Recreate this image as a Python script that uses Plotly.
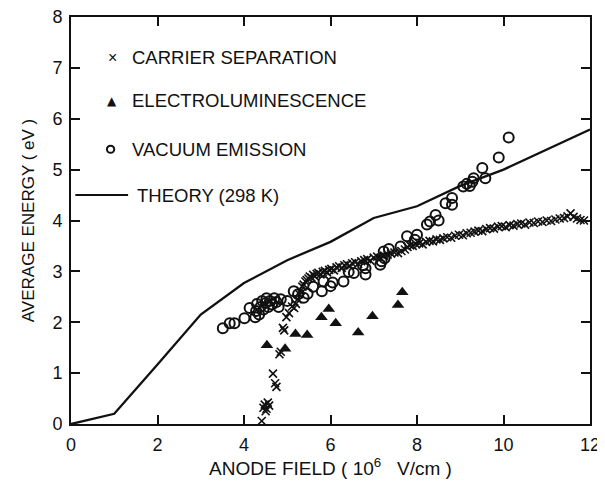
import plotly.graph_objects as go

# theory curve (298 K)
theory_x = [0, 1, 2, 3, 4, 5, 6, 7, 8, 9, 10, 11, 12]
theory_y = [0, 0.2, 1.17, 2.15, 2.77, 3.22, 3.58, 4.05, 4.28, 4.68, 5.0, 5.4, 5.79]

# carrier separation
carrier_x = [4.41, 4.45, 4.48, 4.50, 4.52, 4.55, 4.58, 4.67, 4.72, 4.75, 4.82, 4.85, 4.90, 4.93,
             4.98, 5.04, 5.11, 5.16,
             5.20, 5.24, 5.28, 5.31, 5.35, 5.38, 5.42, 5.45, 5.49, 5.52, 5.56, 5.60, 5.64, 5.68,
             5.72, 5.77, 5.82, 5.87, 5.92, 5.97, 6.02, 6.08, 6.14, 6.20, 6.26, 6.32, 6.38, 6.44,
             6.50, 6.57, 6.64, 6.71, 6.78, 6.85, 6.92, 7.00, 7.08, 7.16, 7.24, 7.32, 7.40, 7.48,
             7.56, 7.64, 7.72, 7.78, 7.84, 7.90, 7.97, 8.05, 8.13, 8.21, 8.29, 8.37, 8.45, 8.53,
             8.61, 8.70, 8.79, 8.88, 8.97, 9.06, 9.15, 9.24, 9.33, 9.42, 9.51, 9.60, 9.69, 9.78,
             9.87, 9.96, 10.05, 10.14, 10.23, 10.32, 10.41, 10.50, 10.60, 10.70, 10.80, 10.90,
             11.00, 11.10, 11.20, 11.30, 11.40, 11.48, 11.55, 11.62, 11.70, 11.78, 11.86]
carrier_y = [0.06, 0.32, 0.38, 0.25, 0.30, 0.42, 0.36, 0.99, 0.80, 0.73, 1.37, 1.42, 1.89, 1.84,
             2.10, 2.18, 2.31, 2.28,
             2.36, 2.45, 2.55, 2.62, 2.70, 2.74, 2.80, 2.83, 2.86, 2.90, 2.88, 2.93, 2.90, 2.95,
             2.97, 2.94, 2.99, 3.01, 2.98, 3.03, 3.05, 3.02, 3.08, 3.10, 3.07, 3.12, 3.14, 3.11,
             3.16, 3.18, 3.15, 3.20, 3.22, 3.24, 3.21, 3.27, 3.29, 3.26, 3.31, 3.33, 3.35, 3.37,
             3.36, 3.40, 3.43, 3.48, 3.51, 3.50, 3.54, 3.55, 3.53, 3.58, 3.60, 3.59, 3.63, 3.62,
             3.65, 3.67, 3.66, 3.70, 3.72, 3.71, 3.75, 3.76, 3.78, 3.80, 3.79, 3.83, 3.85, 3.84,
             3.88, 3.89, 3.87, 3.91, 3.90, 3.93, 3.94, 3.92, 3.96, 3.95, 3.98, 3.97,
             4.00, 3.99, 4.02, 4.04, 4.05, 4.08, 4.14, 4.07, 4.04, 4.01, 4.00]

# electroluminescence
el_x = [4.53, 4.95, 5.19, 5.46, 5.79, 5.96, 6.12, 6.64, 6.97, 7.56, 7.66]
el_y = [1.55, 1.48, 1.77, 1.75, 2.10, 2.26, 1.98, 1.80, 2.12, 2.34, 2.59]

# vacuum emission
vac_x = [3.51, 3.67, 3.78, 4.01, 4.13, 4.26, 4.28, 4.30, 4.35, 4.38, 4.42, 4.45, 4.50, 4.52,
         4.56, 4.60, 4.65, 4.70, 4.75, 4.80, 4.85, 5.00, 5.15, 5.25, 5.38, 5.47, 5.60, 5.80,
         5.84, 6.00, 6.05, 6.30, 6.42, 6.54, 6.81, 6.81, 6.75, 7.15, 7.18, 7.25, 7.23, 7.35,
         7.62, 7.77, 7.95, 8.00, 8.23, 8.30, 8.43, 8.50, 8.66, 8.81, 8.81, 9.07, 9.15, 9.28,
         9.22, 9.31, 9.51, 9.58, 9.89, 10.12]
vac_y = [1.88, 1.98, 1.98, 2.08, 2.28, 2.10, 2.22, 2.36, 2.15, 2.30, 2.42, 2.25, 2.38, 2.47,
         2.30, 2.42, 2.35, 2.47, 2.40, 2.30, 2.45, 2.42, 2.61, 2.55, 2.48, 2.56, 2.70, 2.61,
         2.80, 2.71, 2.78, 2.80, 2.99, 2.97, 2.94, 3.06, 3.12, 3.13, 3.20, 3.26, 3.39, 3.44,
         3.49, 3.69, 3.62, 3.72, 3.92, 3.98, 4.11, 4.00, 4.34, 4.44, 4.31, 4.67, 4.72, 4.76,
         4.68, 4.83, 5.03, 4.83, 5.24, 5.63]

FONT = "Liberation Sans"
INK = "#111111"

fig = go.Figure()
fig.add_trace(go.Scatter(x=theory_x, y=theory_y, mode="lines",
                         line=dict(color=INK, width=2.3)))
fig.add_trace(go.Scatter(x=carrier_x, y=carrier_y, mode="markers",
                         marker=dict(symbol="x-thin-open", size=8, color=INK,
                                     line=dict(color=INK, width=1.6))))
fig.add_trace(go.Scatter(x=vac_x, y=vac_y, mode="markers",
                         marker=dict(symbol="circle-open", size=10, color=INK,
                                     line=dict(color=INK, width=2))))
fig.add_trace(go.Scatter(x=el_x, y=el_y, mode="markers",
                         marker=dict(symbol="triangle-up", size=11, color=INK)))

# legend drawn by hand, like the original figure
legend_font = dict(family=FONT, size=18.5, color=INK)
fig.add_annotation(x=0.97, y=7.2, text="×", showarrow=False, font=dict(family=FONT, size=16, color=INK))
fig.add_annotation(x=1.37, y=7.2, text="CARRIER SEPARATION", showarrow=False,
                   xanchor="left", font=legend_font)
fig.add_annotation(x=0.94, y=6.35, text="▲", showarrow=False, font=dict(family="DejaVu Sans", size=12, color=INK))
fig.add_annotation(x=1.37, y=6.35, text="ELECTROLUMINESCENCE", showarrow=False,
                   xanchor="left", font=legend_font)
fig.add_shape(type="circle", x0=0.83, x1=1.0, y0=5.33, y1=5.47,
              line=dict(color=INK, width=2))
fig.add_annotation(x=1.37, y=5.4, text="VACUUM EMISSION", showarrow=False,
                   xanchor="left", font=legend_font)
fig.add_shape(type="line", x0=0.1, x1=1.32, y0=4.5, y1=4.5, line=dict(color=INK, width=2))
fig.add_annotation(x=1.48, y=4.5, text="THEORY (298 K)", showarrow=False,
                   xanchor="left", font=legend_font)

axis = dict(showline=True, linecolor=INK, linewidth=2, mirror="ticks",
            ticks="inside", ticklen=9, tickwidth=1.5, tickcolor=INK,
            showgrid=False, zeroline=False, ticklabelstandoff=3, automargin=False,
            ticklabeloverflow="allow",
            tickfont=dict(family=FONT, size=18, color=INK))

# the page body has an 8px margin, so the figure is offset by 8px right and down
fig.update_layout(
    width=605, height=498,
    margin=dict(l=63, r=23, t=9, b=82),
    paper_bgcolor="white", plot_bgcolor="white",
    showlegend=False,
    xaxis=dict(range=[0, 12], dtick=2,
               title=dict(text="ANODE FIELD ( 10<sup>6</sup>   V/cm )", standoff=1,
                          font=dict(family=FONT, size=19, color=INK)),
               **axis),
    yaxis=dict(range=[0, 8], dtick=1,
               title=dict(text="AVERAGE ENERGY ( eV )", standoff=13,
                          font=dict(family=FONT, size=17, color=INK)),
               **axis),
)

fig.write_html("out.html")
